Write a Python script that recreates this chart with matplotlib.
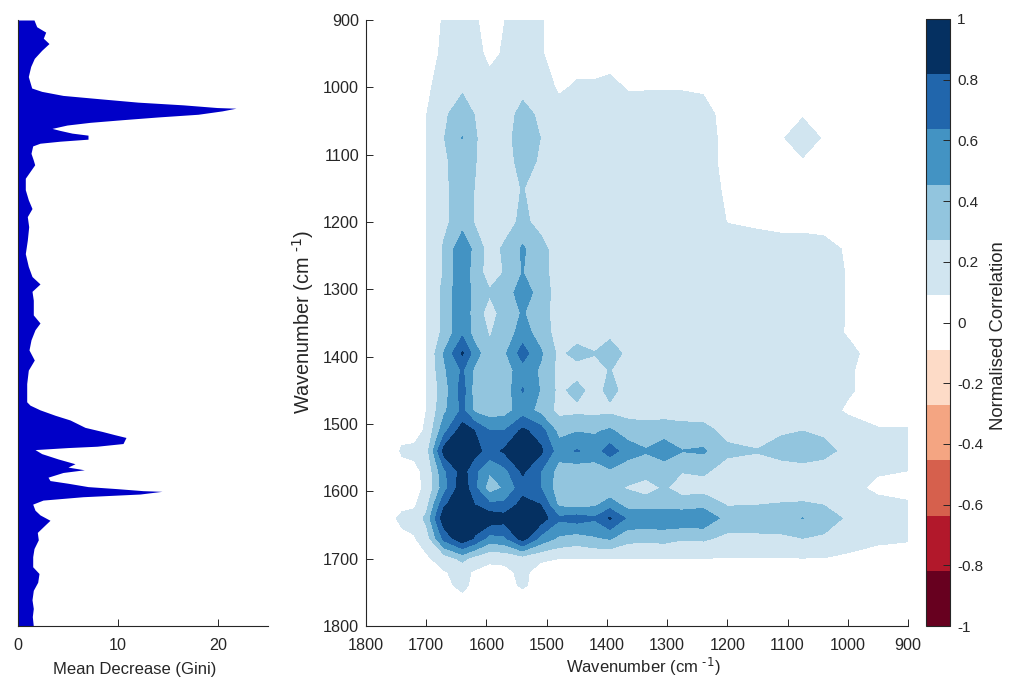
"""Gini importance profile next to a normalised 2D correlation map."""

from __future__ import annotations

import matplotlib
import numpy as np

matplotlib.use("Agg")
import matplotlib.pyplot as plt

WIDTH, HEIGHT = 1010, 679
TEXT = "#262626"

plt.rcParams["font.family"] = ["Liberation Sans", "DejaVu Sans"]
plt.rcParams["mathtext.default"] = "regular"

# importance profile
gini_wn = [
    900, 910, 918, 927, 935, 945, 957, 969, 984, 1001, 1006, 1012, 1017, 1022, 1026,
    1030, 1031, 1035, 1040, 1044, 1048, 1052, 1056, 1061, 1064, 1068, 1071, 1077, 1080,
    1083, 1087, 1098, 1108, 1115, 1125, 1135, 1152, 1167, 1180, 1192, 1207, 1227, 1247,
    1266, 1281, 1292, 1303, 1316, 1338, 1350, 1360, 1375, 1390, 1405, 1420, 1440, 1467,
    1472, 1479, 1487, 1494, 1505, 1511, 1516, 1520, 1529, 1533, 1535, 1538, 1544, 1552,
    1559, 1564, 1568, 1572, 1579, 1584, 1588, 1593, 1596, 1599, 1600, 1604, 1608, 1613,
    1619, 1628, 1635, 1643, 1650, 1661, 1672, 1685, 1697, 1712, 1722, 1735, 1747, 1761,
    1774, 1786, 1800,
]
gini_values = [
    1.6, 1.87, 2.77, 2.53, 3.1, 2.37, 1.63, 1.27, 1.03, 1.37, 2.37, 4.5, 8.2, 12.0, 16.5,
    19.9, 21.8, 20.4, 18.0, 14.0, 10.5, 7.2, 4.9, 3.4, 4.2, 5.4, 7.0, 7.0, 4.2,
    2.2, 1.47, 1.3, 1.53, 1.67, 1.2, 0.73, 0.73, 1.03, 1.4, 0.93, 1.07, 0.93, 0.73,
    1.03, 1.4, 2.2, 1.4, 1.53, 1.53, 2.2, 1.7, 1.3, 1.1, 1.63, 1.03, 0.87, 0.87,
    1.2, 2.2, 3.7, 5.2, 6.7, 8.4, 9.7, 10.8, 10.5, 7.9, 5.0, 1.7, 2.37, 4.03,
    5.7, 5.0, 6.63, 4.5, 3.0, 3.2, 5.0, 7.0, 9.9, 12.5, 14.4, 12.2, 6.5, 2.5,
    1.47, 1.7, 2.2, 3.2, 2.7, 1.93, 2.03, 1.6, 1.47, 1.47, 2.1, 1.97, 1.53, 1.4,
    1.53, 1.43, 1.53,
]

# correlation map is symmetric, so only the lower triangle is kept
corr_wn = [
    900, 950, 1000, 1040, 1075, 1110, 1150, 1200, 1240, 1275, 1305, 1335, 1365, 1395,
    1420, 1450, 1480, 1510, 1540, 1570, 1595, 1620, 1640, 1670, 1700, 1720, 1740, 1760, 1800,
]
corr_rows = [
    [.05],
    [.04, .04],
    [.03, .03, .03],
    [.03, .03, .03, .03],
    [.03, .03, .04, .06, .26],
    [.03, .03, .03, .02, .06, .03],
    [.03, .03, .03, .03, .03, .03, .04],
    [.03, .03, .05, .06, .07, .07, .08, .09],
    [.04, .05, .08, .12, .12, .12, .12, .11, .13],
    [.04, .05, .085, .13, .13, .13, .13, .13, .14, .14],
    [.04, .05, .085, .13, .13, .13, .13, .13, .14, .14, .15],
    [.04, .05, .085, .13, .13, .13, .13, .13, .14, .14, .14, .14],
    [.04, .05, .085, .12, .12, .12, .13, .13, .14, .14, .14, .15, .16],
    [.04, .06, .11, .13, .13, .13, .13, .13, .15, .16, .16, .16, .22, .38],
    [.04, .06, .10, .13, .13, .13, .13, .13, .15, .16, .16, .16, .18, .28, .22],
    [.03, .06, .10, .13, .13, .13, .13, .14, .16, .17, .17, .17, .20, .33, .20, .33],
    [.04, .05, .08, .12, .14, .14, .14, .15, .19, .20, .20, .20, .20, .23, .22, .23, .22],
    [.10, .10, .13, .24, .27, .25, .20, .22, .33, .33, .36, .34, .37, .48, .43, .44, .40, .72],
    [.14, .15, .22, .33, .40, .34, .28, .31, .48, .46, .57, .47, .54, .72, .56, .65, .54, .86, .98],
    [.09, .10, .16, .19, .18, .19, .21, .20, .30, .28, .33, .34, .34, .42, .36, .33, .38, .64, .85, .58],
    [.05, .07, .12, .15, .15, .14, .14, .14, .20, .20, .29, .20, .26, .31, .32, .33, .35, .64, .74, .47, .36],
    [.105, .12, .17, .27, .30, .29, .27, .26, .40, .36, .38, .37, .38, .55, .42, .38, .42, .82, .89, .68, .68, .82],
    [.16, .17, .25, .35, .46, .35, .36, .38, .60, .60, .60, .60, .60, .84, .66, .72, .67, .92, .98, .90, .95, .92, 1.0],
    [.105, .12, .19, .25, .27, .25, .24, .23, .30, .29, .33, .32, .33, .47, .43, .37, .42, .58, .90, .60, .56, .80, .95, .70],
    [.02, .03, .05, .085, .085, .085, .085, .085, .085, .085, .085, .085, .085, .09, .09, .09, .09, .11, .18, .12, .11, .20, .32, .17, .06],
    [.02, .02, .02, .02, .02, .02, .02, .02, .03, .03, .03, .03, .03, .03, .03, .03, .03, .04, .12, .06, .06, .07, .14, .08, .04, .02],
    [.01, .01, .01, .01, .01, .01, .01, .01, .01, .01, .01, .01, .01, .02, .02, .02, .02, .04, .11, .04, .03, .05, .13, .05, .03, .02, .01],
    [.0, .0, .0, .0, .0, .0, .0, .0, .0, .0, .0, .0, .0, .0, .0, .0, .0, .0, .02, .01, .01, .01, .05, .01, .01, .01, .01, .0],
    [.0] * 29,
]

corr_levels = np.linspace(-1, 1, 12)
corr_colors = [
    "#67001f", "#b2182b", "#d6604d", "#f4a582", "#fddbc7", "#ffffff",
    "#d1e5f0", "#92c5de", "#4393c3", "#2166ac", "#053061",
]
wn_ticks = [900, 1000, 1100, 1200, 1300, 1400, 1500, 1600, 1700, 1800]
gini_ticks = [0, 10, 20]
cbar_ticks = [-1, -0.8, -0.6, -0.4, -0.2, 0, 0.2, 0.4, 0.6, 0.8, 1]
cbar_labels = ["-1", "-0.8", "-0.6", "-0.4", "-0.2", "0", "0.2", "0.4", "0.6", "0.8", "1"]
wn_label = r"Wavenumber (cm $^{\text{-1}}$)"


def px_axes(fig, left, top, right, bottom):
    """Add axes from pixel edges measured on the reference."""
    return fig.add_axes(
        [left / WIDTH, 1 - bottom / HEIGHT, (right - left) / WIDTH, (bottom - top) / HEIGHT]
    )


def style_axes(ax):
    ax.spines["top"].set_visible(False)
    ax.spines["right"].set_visible(False)
    for side in ("left", "bottom"):
        ax.spines[side].set_color(TEXT)
        ax.spines[side].set_linewidth(0.8)
    ax.tick_params(direction="in", length=5, width=0.7, color=TEXT, labelcolor=TEXT, labelsize=11.6)
    ax.tick_params(axis="x", pad=9)
    ax.tick_params(axis="y", pad=5)


corr = np.zeros((len(corr_wn), len(corr_wn)))
for i, row in enumerate(corr_rows):
    corr[i, : len(row)] = row
    corr[: len(row), i] = row

fig = plt.figure(figsize=(WIDTH / 100, HEIGHT / 100), dpi=100)

ax_gini = px_axes(fig, 18, 20, 268, 626)
ax_gini.fill_betweenx(gini_wn, 0, gini_values, color="#0000c8", linewidth=0)
ax_gini.set_xlim(0, 25)
ax_gini.set_ylim(1800, 900)
ax_gini.set_xticks(gini_ticks)
ax_gini.set_yticks([])
style_axes(ax_gini)
ax_gini.set_xlabel("Mean Decrease (Gini)", fontsize=12, color=TEXT, va="center")
ax_gini.xaxis.set_label_coords(0.468, -0.071)

ax_map = px_axes(fig, 366, 20, 908, 626)
filled = ax_map.contourf(corr_wn, corr_wn, corr, levels=corr_levels, colors=corr_colors)
ax_map.set_xlim(1800, 900)
ax_map.set_ylim(1800, 900)
ax_map.set_xticks(wn_ticks)
ax_map.set_yticks(wn_ticks)
style_axes(ax_map)
ax_map.set_xlabel(wn_label, fontsize=12, color=TEXT, va="center")
ax_map.xaxis.set_label_coords(0.511, -0.068)
ax_map.set_ylabel(wn_label, fontsize=14.3, color=TEXT, va="center")
ax_map.yaxis.set_label_coords(-0.116, 0.502)

ax_cbar = px_axes(fig, 926, 19, 950, 626)
cbar = fig.colorbar(filled, cax=ax_cbar)
cbar.set_ticks(cbar_ticks, labels=cbar_labels)
cbar.ax.tick_params(direction="in", length=5, width=0.7, color=TEXT, labelcolor=TEXT, labelsize=11, pad=5)
cbar.outline.set_edgecolor(TEXT)
cbar.outline.set_linewidth(0.8)
cbar.set_label("Normalised Correlation", fontsize=13.3, color=TEXT, va="center")
cbar.ax.yaxis.set_label_coords(3.0, 0.479)

fig.savefig("out.png", dpi=100)
plt.close(fig)
